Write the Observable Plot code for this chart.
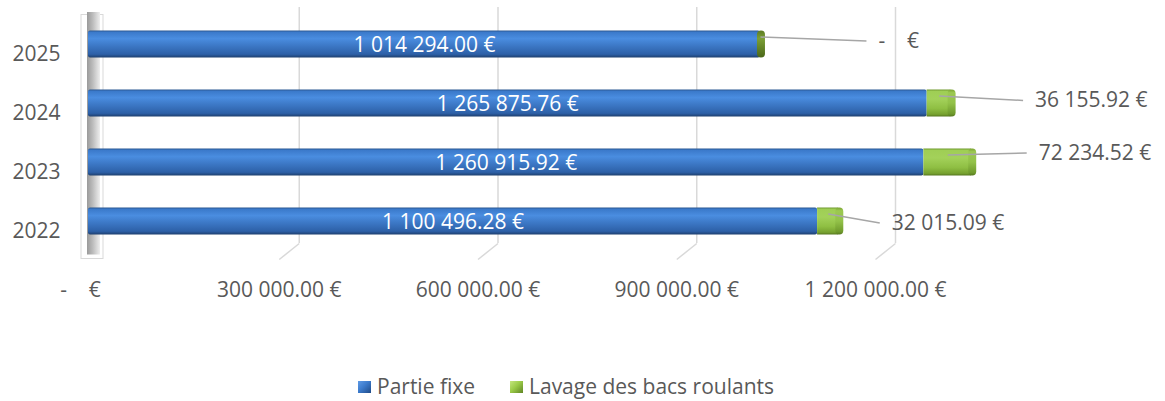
<!DOCTYPE html>
<html><head><meta charset="utf-8">
<script src="https://cdn.jsdelivr.net/npm/d3@7"></script>
<script src="https://cdn.jsdelivr.net/npm/@observablehq/plot@0.6"></script>
<style>
html,body{margin:0;padding:0;background:#fff;}
body{width:1165px;height:401px;overflow:hidden;font-family:"Open Sans",sans-serif;position:relative;}
#chart svg{display:block;}
#legend{position:absolute;left:0;top:374px;width:1165px;height:24px;color:#595959;font-size:21px;line-height:24px;}
.item{position:absolute;top:0;white-space:nowrap;}
.sw{position:absolute;top:7px;width:13px;height:12px;}
</style></head><body>
<div id="chart"></div>
<div id="legend"></div>
<script>
// ---- data ----
const years = ["2025", "2024", "2023", "2022"];
const partieFixe = [1014294.00, 1265875.76, 1260915.92, 1100496.28];
const lavage = [0, 36155.92, 72234.52, 32015.09];
const seriesNames = ["Partie fixe", "Lavage des bacs roulants"];
const xTicks = [0, 300000, 600000, 900000, 1200000];

// ---- layout (pixels) ----
const X0 = 88, X1 = 883, XMAX = 1200000;
const Y0 = 14.5, STEP = 59;
const pxX = p => p * XMAX / (X1 - X0);
const pxY = p => p / STEP;
const half = pxY(13.5);
const calloutDx = [118, 84, 67, 53];
const calloutDy = [-3.5, -3, -9.5, 1.5];
const textColor = "#595959";

const rows = years.map((year, i) => ({
  year, i, c: i + 0.5,
  fixe: partieFixe[i], lav: lavage[i], total: partieFixe[i] + lavage[i]
}));

const fmt = v => v === 0 ? "-\u00A0\u00A0\u00A0\u00A0€"
  : d3.format(",.2f")(v).replace(/,/g, "\u00A0") + "\u00A0€";

const plot = Plot.plot({
  width: 1165, height: 360,
  marginTop: 0, marginBottom: 0, marginLeft: 0, marginRight: 0,
  x: {type: "linear", domain: [0, XMAX], range: [X0, X1], axis: null},
  y: {type: "linear", domain: [0, 4], range: [Y0, Y0 + 4 * STEP], axis: null},
  style: {fontFamily: '"Open Sans", sans-serif', background: "transparent", overflow: "visible"},
  marks: [
    // wall front outline
    Plot.rect([0], {x1: () => pxX(-7), x2: () => pxX(15), y1: () => pxY(0), y2: () => pxY(244),
      fill: "white", stroke: "#d9d9d9", strokeWidth: 1}),
    // back wall
    Plot.rect([0], {x1: () => pxX(-1), x2: () => pxX(12), y1: () => pxY(-2.5), y2: () => pxY(240),
      fill: "url(#wallGrad)"}),
    // gridlines (back) + floor diagonals
    Plot.ruleX(xTicks.slice(1), {x: d => d + pxX(12), y1: () => pxY(-7.5), y2: () => pxY(228.5),
      stroke: "#d9d9d9", strokeWidth: 1.5}),
    Plot.link(xTicks.slice(1), {x1: d => d + pxX(12), y1: () => pxY(228.5), x2: d => d - pxX(8), y2: () => pxY(244.5),
      stroke: "#d9d9d9", strokeWidth: 1.5}),
    // bars
    Plot.rect(rows, {x1: () => 0, x2: "fixe", y1: d => d.c - half, y2: d => d.c + half,
      fill: "url(#blueGrad)", rx: 2}),
    Plot.rect(rows.filter(d => d.lav > 0), {x1: "fixe", x2: "total", y1: d => d.c - half, y2: d => d.c + half,
      fill: "url(#greenGrad)"}),
    Plot.rect(rows, {x1: d => d.total - pxX(3), x2: d => d.total + pxX(5), y1: d => d.c - half, y2: d => d.c + half,
      fill: d => d.lav > 0 ? "url(#capGrad)" : "url(#capDark)", rx: 4}),
    // inside labels
    Plot.text(rows, {x: d => d.fixe / 2, y: "c", text: d => fmt(d.fixe), fill: "white", fontSize: 21, dy: 1}),
    // callouts
    Plot.link(rows, {x1: d => d.fixe + d.lav / 2, y1: d => d.c - half + pxY(6),
      x2: d => d.total + pxX(calloutDx[d.i] - 12), y2: d => d.c + pxY(calloutDy[d.i]),
      stroke: "#a6a6a6", strokeWidth: 1.5}),
    Plot.text(rows, {x: d => d.total + pxX(calloutDx[d.i]), y: d => d.c + pxY(calloutDy[d.i]),
      text: d => fmt(d.lav), textAnchor: "start", fill: textColor, fontSize: 21}),
    // y labels
    Plot.text(rows, {x: () => 0, y: "c", text: "year", textAnchor: "end", dx: -28, dy: 10, fill: textColor, fontSize: 21}),
    // x tick labels
    Plot.text(xTicks, {x: d => d, y: () => pxY(275.5), text: fmt, dx: -8, fill: textColor, fontSize: 21})
  ]
});

const defs = d3.select(plot).insert("defs", ":first-child");
function grad(id, stops, horizontal) {
  const g = defs.append("linearGradient").attr("id", id)
    .attr("x1", 0).attr("y1", 0).attr("x2", horizontal ? 1 : 0).attr("y2", horizontal ? 0 : 1);
  stops.forEach(([o, c]) => g.append("stop").attr("offset", o).attr("stop-color", c));
}
grad("blueGrad", [[0, "#2a5792"], [0.07, "#3b7acb"], [0.3, "#4a8de0"], [0.55, "#3d79c7"], [0.88, "#2d60a7"], [1, "#1e3f6e"]]);
grad("greenGrad", [[0, "#6f9a2e"], [0.07, "#9fce55"], [0.35, "#a3d15a"], [0.7, "#8fbf43"], [0.92, "#76a12f"], [1, "#56771f"]]);
grad("capGrad", [[0, "#7aa232"], [0.12, "#9cc951"], [0.5, "#93c249"], [0.9, "#6f9a2c"], [1, "#56771f"]]);
grad("capDark", [[0, "#5c7a22"], [0.3, "#7b9f36"], [1, "#4b6719"]]);
grad("wallGrad", [[0, "#9a9a9a"], [0.45, "#bdbdbd"], [1, "#eeeeee"]], true);

document.getElementById("chart").appendChild(plot);

// legend
const legendColors = ["linear-gradient(135deg,#5f9be6 0%,#3c7bcc 45%,#1f4a86 100%)",
                      "linear-gradient(135deg,#c5e67f 0%,#9bcb48 45%,#5f8524 100%)"];
const legendX = [358, 510];
const lg = document.getElementById("legend");
seriesNames.forEach((name, k) => {
  const it = document.createElement("div");
  it.className = "item";
  it.style.left = legendX[k] + "px";
  it.innerHTML = `<span class="sw" style="left:0;background:${legendColors[k]}"></span><span style="margin-left:19px">${name}</span>`;
  lg.appendChild(it);
});
</script>
</body></html>
